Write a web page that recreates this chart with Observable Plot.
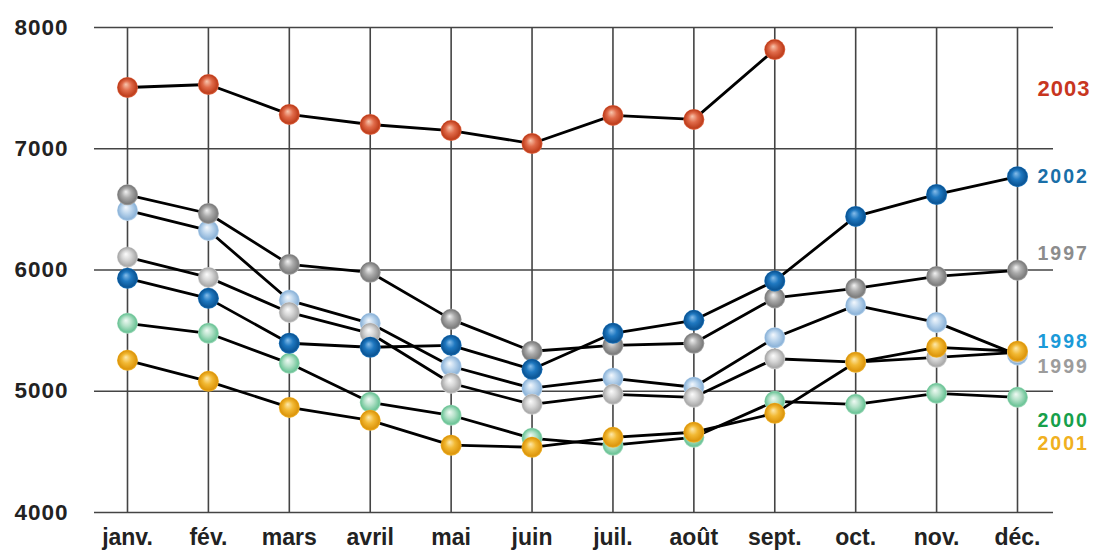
<!DOCTYPE html>
<html>
<head>
<meta charset="utf-8">
<script src="https://cdn.jsdelivr.net/npm/d3@7"></script>
<script src="https://cdn.jsdelivr.net/npm/@observablehq/plot@0.6"></script>
<style>
  html, body { margin: 0; padding: 0; background: #fff; }
  svg { font-family: "Liberation Sans", Arial, sans-serif; }
</style>
</head>
<body>
<div id="chart"></div>
<script>
const months = ["janv.", "fév.", "mars", "avril", "mai", "juin", "juil.", "août", "sept.", "oct.", "nov.", "déc."];
const yTicks = [4000, 5000, 6000, 7000, 8000];

const v1997 = [6620, 6466, 6046, 5981, 5593, 5330, 5379, 5396, 5770, 5848, 5947, 5997];
const v1998 = [6491, 6326, 5750, 5560, 5206, 5025, 5107, 5033, 5441, 5708, 5568, 5300];
const v1999 = [6106, 5939, 5650, 5478, 5066, 4892, 4975, 4950, 5268, 5240, 5280, 5320];
const v2000 = [5560, 5478, 5230, 4909, 4802, 4612, 4555, 4620, 4917, 4892, 4983, 4950];
const v2001 = [5255, 5082, 4867, 4760, 4555, 4538, 4620, 4662, 4818, 5239, 5362, 5330];
const v2002 = [5931, 5766, 5396, 5363, 5379, 5181, 5478, 5585, 5910, 6442, 6623, 6770];
const v2003 = [7505, 7530, 7283, 7200, 7150, 7043, 7275, 7242, 7818, null, null, null];

const years = ["1997", "1998", "1999", "2000", "2001", "2002", "2003"];
const seriesValues = { "1997": v1997, "1998": v1998, "1999": v1999, "2000": v2000, "2001": v2001, "2002": v2002, "2003": v2003 };

// legend label anchors (value units, placed right of "déc.")
const labelYears = ["2003", "2002", "1997", "1998", "1999", "2000", "2001"];
const labelY = [7497, 6772, 6137, 5412, 5206, 4760, 4571];

// styles
const sphere = {
  "1997": ["#f2f2f2", "#ababab", "#7c7c7c"],
  "1998": ["#f4f8fd", "#bdd6ed", "#8db4d9"],
  "1999": ["#fcfcfc", "#d6d6d6", "#a9a9a9"],
  "2000": ["#f0faf4", "#b3e1c8", "#6cc497"],
  "2001": ["#fde9ad", "#f2b934", "#dd960c"],
  "2002": ["#86bdea", "#1f78c0", "#0b5595"],
  "2003": ["#f8c6ae", "#e06b4a", "#bf3e1c"]
};
const labelColor = {
  "2003": "#c8361f", "2002": "#1a6fa8", "1997": "#8c8c8c", "1998": "#1b9ad8",
  "1999": "#9c9c9c", "2000": "#17a04b", "2001": "#f0b020"
};
const dotOrder = ["1998", "1999", "1997", "2000", "2001", "2002", "2003"];
const FONT = "Liberation Sans, Arial, sans-serif";

const rows = [];
for (const y of years) {
  seriesValues[y].forEach((v, i) => rows.push({ year: y, mi: i, value: v }));
}
const monthIdx = months.map((m, i) => i);

const marks = [
  Plot.ruleY(yTicks, { stroke: "#444", strokeWidth: 1.6 }),
  Plot.ruleX(monthIdx, { y1: 4000, y2: 8000, stroke: "#444", strokeWidth: 1.6 }),
  Plot.line(rows, { x: "mi", y: "value", z: "year", stroke: "#000", strokeWidth: 2.8 })
];
for (const y of dotOrder) {
  marks.push(Plot.dot(rows.filter(d => d.year === y && d.value != null), {
    x: "mi", y: "value", r: 10.5, fill: `url(#sph${y})`, stroke: "none"
  }));
}
labelYears.forEach((y, i) => {
  marks.push(Plot.text([{ y: labelY[i], t: y }], {
    x: () => 11, y: "y", text: "t", dx: 20, textAnchor: "start",
    fill: labelColor[y], fontWeight: "bold", fontSize: y === "2003" ? 22 : 19.5,
    fontFamily: FONT
  }));
});
marks.push(Plot.axisX({
  ticks: monthIdx, tickFormat: i => months[i],
  tickSize: 0, tickPadding: 16, fontSize: 23, fontWeight: "bold", fill: "#222",
  fontFamily: FONT
}));
marks.push(Plot.axisY({
  ticks: yTicks, tickSize: 0, tickPadding: 26, fontSize: 22.5, fontWeight: "bold", fill: "#222",
  tickFormat: d3.format("d"), fontFamily: FONT
}));

const svg = Plot.plot({
  width: 1095,
  height: 551,
  marginLeft: 94,
  marginRight: 42,
  marginTop: 27,
  marginBottom: 39,
  x: { type: "linear", domain: [0, 11], range: [127, 1017], label: null },
  y: { domain: [4000, 8000], label: null },
  style: { background: "#fff", overflow: "visible" },
  marks
});

const defs = d3.select(svg).insert("defs", ":first-child");
for (const y of years) {
  const [light, base, dark] = sphere[y];
  const g = defs.append("radialGradient")
    .attr("id", `sph${y}`)
    .attr("cx", "0.5").attr("cy", "0.5").attr("r", "0.5")
    .attr("fx", "0.42").attr("fy", "0.35");
  g.append("stop").attr("offset", "0").attr("stop-color", light);
  g.append("stop").attr("offset", "0.45").attr("stop-color", base);
  g.append("stop").attr("offset", "0.88").attr("stop-color", dark);
  g.append("stop").attr("offset", "1").attr("stop-color", base);
}
// letter spacing for legend labels
d3.select(svg).selectAll("text").each(function () {
  const t = this.textContent;
  if (labelYears.includes(t)) this.style.letterSpacing = t === "2003" ? "1px" : "2px";
});
d3.select(svg).selectAll("g[aria-label='y-axis tick label'] text").style("letter-spacing", "1px");

document.getElementById("chart").appendChild(svg);
</script>
</body>
</html>
